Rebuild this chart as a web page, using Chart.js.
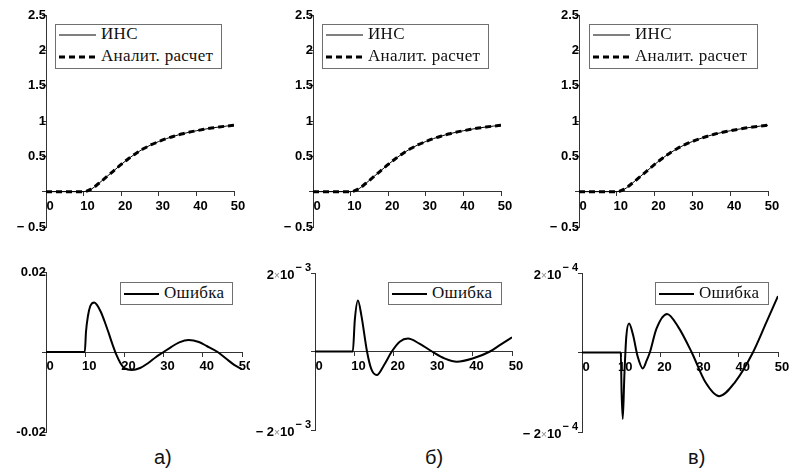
<!DOCTYPE html>
<html>
<head>
<meta charset="utf-8">
<script src="https://cdn.jsdelivr.net/npm/chart.js@4.4.1/dist/chart.umd.min.js"></script>
<style>
body { margin:0; background:#fff; width:795px; height:472px; position:relative; overflow:hidden; }
canvas { position:absolute; }
.legend { position:absolute; background:#fff; border:1px solid #707070; box-sizing:border-box;
          font-family:'Liberation Serif', 'DejaVu Serif', 'Times New Roman', serif; font-size:17px; letter-spacing:0.3px; color:#111; z-index:2; }
.legend .row { position:absolute; white-space:nowrap; line-height:18px; }
.legend svg { position:absolute; }
.cap { position:absolute; font-family:'Liberation Sans', Arial, sans-serif; font-size:20px; line-height:20px; color:#111; }
</style>
</head>
<body>

<div class="cap" style="left:154px; top:447px;">а)</div>
<div class="cap" style="left:425px; top:447px;">б)</div>
<div class="cap" style="left:688px; top:447px;">в)</div>

<script>
// время, с
var tMain = [0, 2, 4, 6, 8, 10, 12, 14, 16, 18, 20, 22, 24, 26, 28, 30, 32, 34, 36, 38, 40, 42, 44, 46, 48, 50];
var insValues  = [0, 0, 0, 0, 0, 0, 0.035, 0.115, 0.205, 0.295, 0.385, 0.47, 0.545, 0.61, 0.665, 0.71, 0.75, 0.785, 0.815, 0.84, 0.862, 0.882, 0.9, 0.915, 0.928, 0.94];
var analValues = [0, 0, 0, 0, 0, 0, 0.035, 0.115, 0.205, 0.295, 0.385, 0.47, 0.545, 0.61, 0.665, 0.71, 0.75, 0.785, 0.815, 0.84, 0.862, 0.882, 0.9, 0.915, 0.928, 0.94];

// ошибка, вариант а)
var tErrA = [0, 9.9, 10.2, 10.7, 11.3, 12.3, 13, 14, 15, 16, 17, 18, 19, 20, 21.9, 24, 26, 28, 30, 32, 34, 36.4, 39, 41, 43.8, 46, 48, 50];
var errA  = [0, 0, 0.005, 0.009, 0.0115, 0.0124, 0.0118, 0.0100, 0.0075, 0.0047, 0.0018, -0.0008, -0.0028, -0.0040, -0.0045, -0.0040, -0.0028, -0.0013, 0, 0.0013, 0.0024, 0.003, 0.0025, 0.0015, 0, -0.0017, -0.0032, -0.0043];

// ошибка, вариант б)
var tErrB = [0, 9.6, 10.1, 10.9, 11.8, 13.2, 14.3, 15.7, 17.5, 19.5, 21.5, 23.6, 26.5, 29.7, 33, 36, 40, 44.4, 47, 50];
var errB  = [0, 0, 0.0008, 0.0013, 0.0009, 0, -0.00045, -0.0006, -0.00035, 0, 0.00025, 0.00033, 0.0002, 0, -0.00018, -0.00026, -0.00018, 0, 0.00017, 0.00036];

// ошибка, вариант в)
var tErrC = [0, 9.9, 10.1, 10.4, 10.8, 11.3, 12, 13, 14.2, 15.5, 16.5, 17.3, 19, 21.7, 24.5, 28, 31.5, 35, 39, 43.6, 47, 50];
var errC  = [0, 0, -0.0001, -0.000167, -0.00006, 0.00004, 0.000073, 0.000045, -0.00001, -0.00004, -0.00002, 0, 0.00006, 0.000097, 0.000065, 0, -0.000075, -0.00011, -0.000075, 0, 0.000075, 0.000142];

var xTicks = [0, 10, 20, 30, 40, 50];
var xLabels = ['0', '10', '20', '30', '40', '50'];
var yTicksTop = [-0.5, 0, 0.5, 1, 1.5, 2, 2.5];
var yLabelsTop = ['\u2212 0.5', '', '0.5', '1', '1.5', '2', '2.5'];
var yTicksA = [-0.02, 0, 0.02];
var yLabelsA = ['-0.02', '', '0.02'];
var yTicksB = [-0.002, 0, 0.002];
var yLabelsB = ['\u2212 2\u00d710^\u2212 3', '', '2\u00d710^\u2212 3'];
var yTicksC = [-0.0002, 0, 0.0002];
var yLabelsC = ['\u2212 2\u00d710^\u2212 4', '', '2\u00d710^\u2212 4'];

function toPoints(xs, ys) {
    return xs.map(function(x, i) { return {x: x, y: ys[i]}; });
}

var axisColor = '#333';
var tickFont = {family: 'Liberation Sans', weight: 'bold', size: 13};

// подписи вида 2×10^-3 рисуем сами, с показателем степени
var powerLabels = {
    id: 'powerLabels',
    afterDraw: function(chart, args, opts) {
        if (!opts.labels) return;
        var ys = chart.scales.y, xs = chart.scales.x;
        var ax = xs.getPixelForValue(0) - 4;
        var ctx = chart.ctx;
        ctx.save();
        ctx.textAlign = 'right';
        ctx.textBaseline = 'alphabetic';
        opts.values.forEach(function(v, i) {
            var s = opts.labels[i];
            if (!s) return;
            var py = ys.getPixelForValue(v);
            var parts = s.split('^');
            var base = parts[0], exp = parts[1];
            var x = ax;
            ctx.fillStyle = '#000';
            ctx.font = 'bold 11px "Liberation Sans"';
            ctx.fillText(exp, x, py - 2);
            x -= ctx.measureText(exp).width + 1;
            var m = base.split('\u00d7');
            ctx.font = 'bold 13px "Liberation Sans"';
            ctx.fillText(m[1], x, py + 6);
            x -= ctx.measureText(m[1]).width;
            ctx.fillStyle = '#888';
            ctx.font = '10px "Liberation Sans"';
            ctx.fillText('\u00d7', x, py + 6);
            x -= ctx.measureText('\u00d7').width;
            ctx.fillStyle = '#000';
            ctx.font = 'bold 13px "Liberation Sans"';
            ctx.fillText(m[0], x, py + 6);
        });
        ctx.restore();
    }
};

function makePanel(p) {
    var c = document.createElement('canvas');
    c.width = p.box[2];
    c.height = p.box[3];
    c.style.left = p.box[0] + 'px';
    c.style.top = p.box[1] + 'px';
    document.body.appendChild(c);

    var xm = p.x0 - (p.x50 - p.x0) / 50;
    var pad = {
        left: xm - p.box[0],
        right: p.box[0] + p.box[2] - p.x50,
        top: p.yTop - p.box[1],
        bottom: p.box[1] + p.box[3] - p.yBot
    };
    var custom = p.yLabels.some(function(s) { return s.indexOf('^') >= 0; });

    new Chart(c.getContext('2d'), {
        type: 'line',
        data: {datasets: p.datasets},
        plugins: [powerLabels],
        options: {
            responsive: false,
            animation: false,
            layout: {padding: pad},
            plugins: {
                legend: {display: false},
                tooltip: {enabled: false},
                powerLabels: custom ? {values: p.yTicks, labels: p.yLabels} : {}
            },
            elements: {point: {radius: 0}, line: {cubicInterpolationMode: 'monotone'}},
            scales: {
                x: {
                    type: 'linear', min: -1, max: 50,
                    position: {y: 0},
                    afterFit: function(s) { s.height = 0; s.paddingLeft = 0; s.paddingRight = 0; },
                    afterBuildTicks: function(s) { s.ticks = xTicks.map(function(v) { return {value: v}; }); },
                    grid: {drawOnChartArea: false, tickLength: 4, color: axisColor},
                    border: {color: axisColor, width: 1},
                    ticks: {
                        color: '#000', font: tickFont, padding: 3, labelOffset: 4,
                        autoSkip: false, maxRotation: 0,
                        callback: function(v, i) { return xLabels[i]; }
                    }
                },
                y: {
                    type: 'linear', min: p.yTicks[0], max: p.yTicks[p.yTicks.length - 1],
                    position: {x: 0},
                    afterFit: function(s) { s.width = 0; s.paddingTop = 0; s.paddingBottom = 0; },
                    afterBuildTicks: function(s) { s.ticks = p.yTicks.map(function(v) { return {value: v}; }); },
                    grid: {drawOnChartArea: false, tickLength: 4, color: axisColor},
                    border: {color: axisColor, width: 1},
                    ticks: {
                        color: '#000', font: tickFont, padding: 2,
                        autoSkip: false,
                        callback: function(v, i) { return custom ? '' : p.yLabels[i]; }
                    }
                }
            }
        }
    });
}

function addLegend(box, items) {
    var d = document.createElement('div');
    d.className = 'legend';
    d.style.left = box[0] + 'px';
    d.style.top = box[1] + 'px';
    d.style.width = box[2] + 'px';
    d.style.height = box[3] + 'px';
    items.forEach(function(it, i) {
        var cy = box[4] + i * box[5];
        var svg = '<svg width="' + it.len + '" height="6" style="left:3px; top:' + (cy - 3) + 'px">' +
            '<line x1="0" y1="3" x2="' + it.len + '" y2="3" stroke="#000" stroke-width="' + it.w + '"' +
            (it.dash ? ' stroke-dasharray="' + it.dash + '"' : '') + '/></svg>';
        d.innerHTML += svg + '<div class="row" style="left:' + (it.len + 8) + 'px; top:' + (cy - 10) + 'px">' + it.text + '</div>';
    });
    document.body.appendChild(d);
}

function topDatasets() {
    return [
        {label: 'ИНС', data: toPoints(tMain, insValues), borderColor: '#000', borderWidth: 1},
        {label: 'Аналит. расчет', data: toPoints(tMain, analValues), borderColor: '#000', borderWidth: 3, borderDash: [6, 4]}
    ];
}
function errDataset(xs, ys) {
    return [{label: 'Ошибка', data: toPoints(xs, ys), borderColor: '#000', borderWidth: 2}];
}

makePanel({box: [0, 0, 265, 240], x0: 46, x50: 234, yTop: 15, yBot: 227, yTicks: yTicksTop, yLabels: yLabelsTop, datasets: topDatasets()});
makePanel({box: [265, 0, 265, 240], x0: 313, x50: 501, yTop: 15, yBot: 227, yTicks: yTicksTop, yLabels: yLabelsTop, datasets: topDatasets()});
makePanel({box: [530, 0, 265, 240], x0: 579, x50: 768, yTop: 15, yBot: 227, yTicks: yTicksTop, yLabels: yLabelsTop, datasets: topDatasets()});

makePanel({box: [0, 250, 250, 222], x0: 46, x50: 242, yTop: 272, yBot: 432, yTicks: yTicksA, yLabels: yLabelsA, datasets: errDataset(tErrA, errA)});
makePanel({box: [250, 250, 280, 222], x0: 315, x50: 512, yTop: 273, yBot: 430, yTicks: yTicksB, yLabels: yLabelsB, datasets: errDataset(tErrB, errB)});
makePanel({box: [520, 250, 275, 222], x0: 582, x50: 778, yTop: 273, yBot: 432, yTicks: yTicksC, yLabels: yLabelsC, datasets: errDataset(tErrC, errC)});

var topItems = [{text: 'ИНС', len: 37, w: 1}, {text: 'Аналит. расчет', len: 37, w: 3, dash: '6 4'}];
var errItems = [{text: 'Ошибка', len: 35, w: 2}];
addLegend([55, 24, 167, 45, 10, 22], topItems);
addLegend([322, 24, 167, 45, 10, 22], topItems);
addLegend([589, 24, 169, 45, 10, 22], topItems);
addLegend([120, 282, 113, 23, 11, 0], errItems);
addLegend([388, 282, 114, 23, 11, 0], errItems);
addLegend([655, 282, 114, 23, 11, 0], errItems);
</script>
</body>
</html>
